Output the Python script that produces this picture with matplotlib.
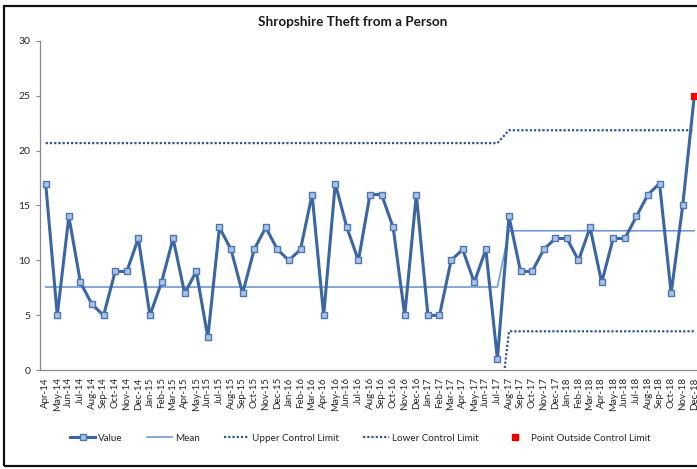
import numpy as np
import matplotlib
matplotlib.use("Agg")
import matplotlib.pyplot as plt
from matplotlib.lines import Line2D
from matplotlib.patches import Rectangle

plt.rcParams['font.family'] = ['Lato', 'DejaVu Sans']

# Monthly counts, Apr-14 .. Dec-18
months = [
    "Apr-14", "May-14", "Jun-14", "Jul-14", "Aug-14", "Sep-14", "Oct-14", "Nov-14", "Dec-14",
    "Jan-15", "Feb-15", "Mar-15", "Apr-15", "May-15", "Jun-15", "Jul-15", "Aug-15", "Sep-15",
    "Oct-15", "Nov-15", "Dec-15", "Jan-16", "Feb-16", "Mar-16", "Apr-16", "May-16", "Jun-16",
    "Jul-16", "Aug-16", "Sep-16", "Oct-16", "Nov-16", "Dec-16", "Jan-17", "Feb-17", "Mar-17",
    "Apr-17", "May-17", "Jun-17", "Jul-17", "Aug-17", "Sep-17", "Oct-17", "Nov-17", "Dec-17",
    "Jan-18", "Feb-18", "Mar-18", "Apr-18", "May-18", "Jun-18", "Jul-18", "Aug-18", "Sep-18",
    "Oct-18", "Nov-18", "Dec-18",
]
values = [
    17, 5, 14, 8, 6, 5, 9, 9, 12,
    5, 8, 12, 7, 9, 3, 13, 11, 7, 11, 13, 11,
    10, 11, 16, 5, 17, 13, 10, 16, 16, 13, 5, 16,
    5, 5, 10, 11, 8, 11, 1, 14, 9, 9, 11, 12,
    12, 10, 13, 8, 12, 12, 14, 16, 17, 7, 15, 25,
]

# Control-chart segments (process recalculated from Aug-17)
segment_lengths = [40, 17]
segment_mean = [7.58, 12.7]
segment_ucl = [20.68, 21.85]
segment_lcl = [-5.52, 3.55]

# Points flagged outside the control limits
outside_values = [np.nan] * 56 + [25]

x = np.arange(len(months))
mean_line = np.repeat(segment_mean, segment_lengths)
ucl_line = np.repeat(segment_ucl, segment_lengths)
lcl_line = np.repeat(segment_lcl, segment_lengths)

W, H = 697, 469
fig = plt.figure(figsize=(W / 100, H / 100), dpi=100)
ax = fig.add_axes([39.9 / W, 1 - 370.3 / H, (700.1 - 39.9) / W, (370.3 - 40.7) / H])

line_blue = '#3A66A4'
dot_blue = '#2F5597'
mean_blue = '#7498D0'

ax.plot(x, mean_line, color=mean_blue, lw=1.2, zorder=2)
ax.plot(x, ucl_line, color=dot_blue, lw=1.6, linestyle=(0, (1, 0.9)), zorder=2)
ax.plot(x, lcl_line, color=dot_blue, lw=1.6, linestyle=(0, (1, 0.9)), zorder=2)
ax.plot(x, values, color=line_blue, lw=2.2, marker='s', ms=4.6,
        mfc='#AFC2E3', mec='#4A76B4', mew=1.0, zorder=3)
ax.plot(x, outside_values, linestyle='none', marker='s', ms=4.6,
        mfc='#FF0000', mec='#E00000', mew=0.6, zorder=4)

ax.set_xlim(-0.5, len(months) - 0.5)
ax.set_ylim(0, 30)
ax.set_yticks(np.arange(0, 31, 5))
ax.set_xticks(x)
ax.set_xticklabels(months, rotation=90, fontsize=7, color='#262626')
ax.tick_params(axis='x', length=0, pad=5)
ax.tick_params(axis='y', length=3, width=0.8, color='#888888', labelsize=7.5,
               labelcolor='#262626', pad=4)
for side in ('top', 'right'):
    ax.spines[side].set_visible(False)
for side in ('left', 'bottom'):
    ax.spines[side].set_color('#888888')
    ax.spines[side].set_linewidth(0.9)

fig.text(0.506, 1 - 22 / H, "Shropshire Theft from a Person", ha='center', va='center',
         fontsize=9.7, fontweight='bold', color='#1a1a1a')

handles = [
    Line2D([], [], color=line_blue, lw=2.2, marker='s', ms=4.6, mfc='#AFC2E3', mec='#4A76B4'),
    Line2D([], [], color=mean_blue, lw=1.2),
    Line2D([], [], color=dot_blue, lw=1.6, linestyle=(0, (1, 0.9))),
    Line2D([], [], color=dot_blue, lw=1.6, linestyle=(0, (1, 0.9))),
    Line2D([], [], linestyle='none', marker='s', ms=4.6, mfc='#FF0000', mec='#E00000'),
]
labels = ["Value", "Mean", "Upper Control Limit", "Lower Control Limit", "Point Outside Control Limit"]
fig.legend(handles, labels, loc='center', bbox_to_anchor=(360 / W, 1 - 438 / H), ncol=5,
           frameon=False, fontsize=7.1, handlelength=2.6, handletextpad=0.3,
           columnspacing=2.4, labelcolor='#262626')

# Chart-area frame
fig.patches.append(Rectangle((4 / W, 1 - 466 / H), 1.2, (466 - 6) / H,
                             transform=fig.transFigure, fill=False,
                             edgecolor='#111111', lw=1.6, zorder=10))

fig.savefig("out.png", dpi=100)
